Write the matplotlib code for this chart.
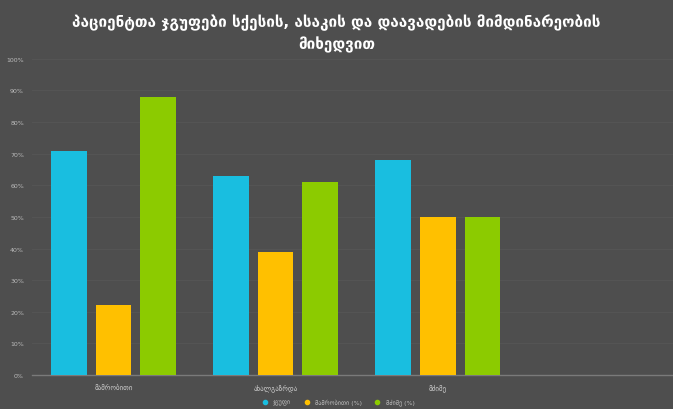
import matplotlib
matplotlib.use("Agg")
import matplotlib.pyplot as plt
from matplotlib.lines import Line2D
import numpy as np

categories = ["მამრობითი", "ახალგაზრდა", "მძიმე"]
series_names = ["ჯგუფი", "მამრობითი (%)", "მძიმე (%)"]
series1 = [71, 63, 68]
series2 = [22, 39, 50]
series3 = [88, 61, 50]
yticks = list(range(0, 101, 10))
ytick_labels = [f"{v}%" for v in yticks]

colors = ["#19BEE0", "#FFC000", "#8CCB00"]
bg = "#4E4E4E"

fig = plt.figure(figsize=(6.73, 4.10), dpi=100, facecolor=bg)
ax = fig.add_axes([0.048, 0.083, 0.952, 0.771], facecolor=bg)

x = np.arange(len(categories))
w = 0.22
offsets = [-0.275, 0.0, 0.275]
for vals, off, c, name in zip([series1, series2, series3], offsets, colors, series_names):
    ax.bar(x + off, vals, width=w, color=c, label=name, zorder=3)

ax.set_xlim(-0.5, 3.45)
ax.set_ylim(0, 100)
ax.set_yticks(yticks)
ax.set_yticklabels(ytick_labels, fontsize=4.5, color="#BBBBBB")
ax.set_xticks(x)
ax.set_xticklabels(categories, fontsize=5, color="#CCCCCC")
ax.tick_params(axis="both", length=0, pad=6)
ax.grid(axis="y", color="#565656", linewidth=0.6, zorder=0)
for s in ["top", "right", "left"]:
    ax.spines[s].set_visible(False)
ax.spines["bottom"].set_color("#7A7A7A")
ax.spines["bottom"].set_linewidth(1.0)

fig.suptitle("პაციენტთა ჯგუფები სქესის, ასაკის და დაავადების მიმდინარეობის\nმიხედვით",
             color="white", fontsize=11, fontweight="bold", y=0.965, linespacing=1.45)

handles = [Line2D([], [], marker="o", linestyle="none", markersize=3, color=c) for c in colors]
fig.legend(handles, series_names, loc="lower center", bbox_to_anchor=(0.5, -0.005), ncol=3,
           frameon=False, fontsize=4.5, labelcolor="#BBBBBB", handletextpad=0.3,
           columnspacing=1.5)

fig.savefig("out.png", dpi=100, facecolor=bg)
